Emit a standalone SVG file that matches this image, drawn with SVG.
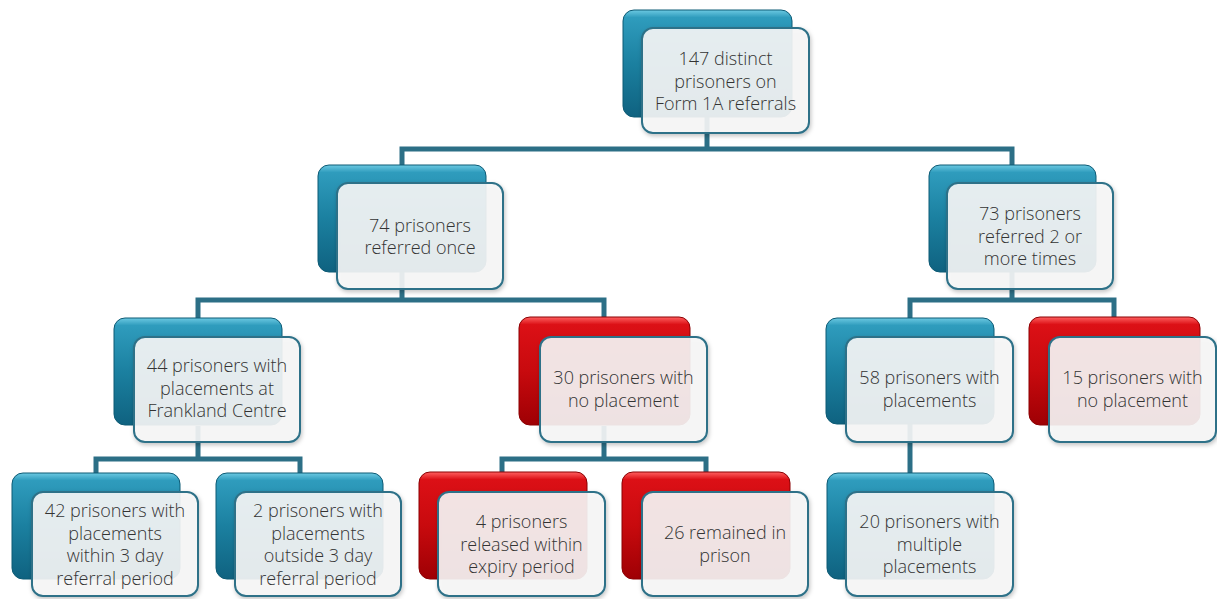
<svg xmlns="http://www.w3.org/2000/svg" width="1217" height="599" viewBox="0 0 1217 599">
<defs>
<linearGradient id="gb" x1="0" y1="0" x2="0" y2="1">
<stop offset="0" stop-color="#6cc9e2"/>
<stop offset="0.07" stop-color="#2f9cbd"/>
<stop offset="0.5" stop-color="#1b80a0"/>
<stop offset="1" stop-color="#0f6280"/>
</linearGradient>
<linearGradient id="gr" x1="0" y1="0" x2="0" y2="1">
<stop offset="0" stop-color="#ff6060"/>
<stop offset="0.07" stop-color="#dc1016"/>
<stop offset="0.5" stop-color="#c80a0e"/>
<stop offset="1" stop-color="#9e0004"/>
</linearGradient>
<filter id="sh" x="-10%" y="-10%" width="125%" height="130%">
<feDropShadow dx="1" dy="2" stdDeviation="2" flood-color="#000" flood-opacity="0.25"/>
</filter>
<style>
.con{fill:none;stroke:#2c6f86;stroke-width:5;stroke-linejoin:miter}
.bb{fill:url(#gb);stroke:#0d5a74;stroke-width:1}
.br{fill:url(#gr);stroke:#8a0003;stroke-width:1}
.fr{fill:#f7f7f7;fill-opacity:0.9;stroke:#2d7188;stroke-width:2;filter:url(#sh)}
text{font-family:"Open Sans","Liberation Sans",sans-serif;font-size:18px;font-weight:300;fill:#333333;text-anchor:middle}
</style>
</defs>
<rect width="1217" height="599" fill="#ffffff"/>
<g id="connectors">
<path class="con" d="M707 117 V149 M402 165 V149 H1012 V165"/>
<path class="con" d="M402 272 V300 M198 318 V300 H604 V318"/>
<path class="con" d="M1012 272 V300 M910 318 V300 H1114 V318"/>
<path class="con" d="M198 426 V459 M96 473 V459 H300 V473"/>
<path class="con" d="M604 426 V459 M502 473 V459 H706 V473"/>
<path class="con" d="M910 424 V473"/>
</g>
<g id="n147">
<rect class="bb" x="623" y="10" width="169" height="107" rx="11"/>
<rect class="fr" x="642" y="28" width="167" height="105" rx="11"/>
<text><tspan x="725.5" y="65">147 distinct</tspan><tspan x="725.5" dy="22.5">prisoners on</tspan><tspan x="725.5" dy="22.5">Form 1A referrals</tspan></text>
</g>
<g id="n74">
<rect class="bb" x="318" y="165" width="168" height="107" rx="11"/>
<rect class="fr" x="337" y="183" width="166" height="106" rx="11"/>
<text><tspan x="420" y="231.5">74 prisoners</tspan><tspan x="420" dy="22.5">referred once</tspan></text>
</g>
<g id="n73">
<rect class="bb" x="929" y="165" width="167" height="107" rx="11"/>
<rect class="fr" x="947" y="183" width="166" height="106" rx="11"/>
<text><tspan x="1030" y="220">73 prisoners</tspan><tspan x="1030" dy="22.5">referred 2 or</tspan><tspan x="1030" dy="22.5">more times</tspan></text>
</g>
<g id="n44">
<rect class="bb" x="114" y="318" width="168" height="107" rx="11"/>
<rect class="fr" x="134" y="337" width="166" height="105" rx="11"/>
<text><tspan x="217" y="372">44 prisoners with</tspan><tspan x="217" dy="22.5">placements at</tspan><tspan x="217" dy="22.5">Frankland Centre</tspan></text>
</g>
<g id="n30">
<rect class="br" x="519" y="317" width="171" height="108" rx="11"/>
<rect class="fr" x="540" y="337" width="167" height="105" rx="11"/>
<text><tspan x="623.5" y="384">30 prisoners with</tspan><tspan x="623.5" dy="22.5">no placement</tspan></text>
</g>
<g id="n58">
<rect class="bb" x="826" y="318" width="168" height="106" rx="11"/>
<rect class="fr" x="846" y="337" width="167" height="105" rx="11"/>
<text><tspan x="929.5" y="384">58 prisoners with</tspan><tspan x="929.5" dy="22.5">placements</tspan></text>
</g>
<g id="n15">
<rect class="br" x="1029" y="317" width="171" height="108" rx="11"/>
<rect class="fr" x="1049" y="337" width="167" height="105" rx="11"/>
<text><tspan x="1132.5" y="384">15 prisoners with</tspan><tspan x="1132.5" dy="22.5">no placement</tspan></text>
</g>
<g id="n42">
<rect class="bb" x="12" y="473" width="168" height="106" rx="11"/>
<rect class="fr" x="32" y="492" width="166" height="104" rx="11"/>
<text><tspan x="115" y="517">42 prisoners with</tspan><tspan x="115" dy="22.5">placements</tspan><tspan x="115" dy="22.5">within 3 day</tspan><tspan x="115" dy="22.5">referral period</tspan></text>
</g>
<g id="n2">
<rect class="bb" x="216" y="473" width="167" height="106" rx="11"/>
<rect class="fr" x="235" y="492" width="166" height="104" rx="11"/>
<text><tspan x="318" y="517">2 prisoners with</tspan><tspan x="318" dy="22.5">placements</tspan><tspan x="318" dy="22.5">outside 3 day</tspan><tspan x="318" dy="22.5">referral period</tspan></text>
</g>
<g id="n4">
<rect class="br" x="419" y="472" width="168" height="107" rx="11"/>
<rect class="fr" x="438" y="492" width="167" height="104" rx="11"/>
<text><tspan x="521.5" y="528">4 prisoners</tspan><tspan x="521.5" dy="22.5">released within</tspan><tspan x="521.5" dy="22.5">expiry period</tspan></text>
</g>
<g id="n26">
<rect class="br" x="622" y="472" width="168" height="107" rx="11"/>
<rect class="fr" x="642" y="492" width="166" height="104" rx="11"/>
<text><tspan x="725" y="539">26 remained in</tspan><tspan x="725" dy="22.5">prison</tspan></text>
</g>
<g id="n20">
<rect class="bb" x="827" y="473" width="167" height="106" rx="11"/>
<rect class="fr" x="846" y="492" width="167" height="104" rx="11"/>
<text><tspan x="929.5" y="528">20 prisoners with</tspan><tspan x="929.5" dy="22.5">multiple</tspan><tspan x="929.5" dy="22.5">placements</tspan></text>
</g>
</svg>
